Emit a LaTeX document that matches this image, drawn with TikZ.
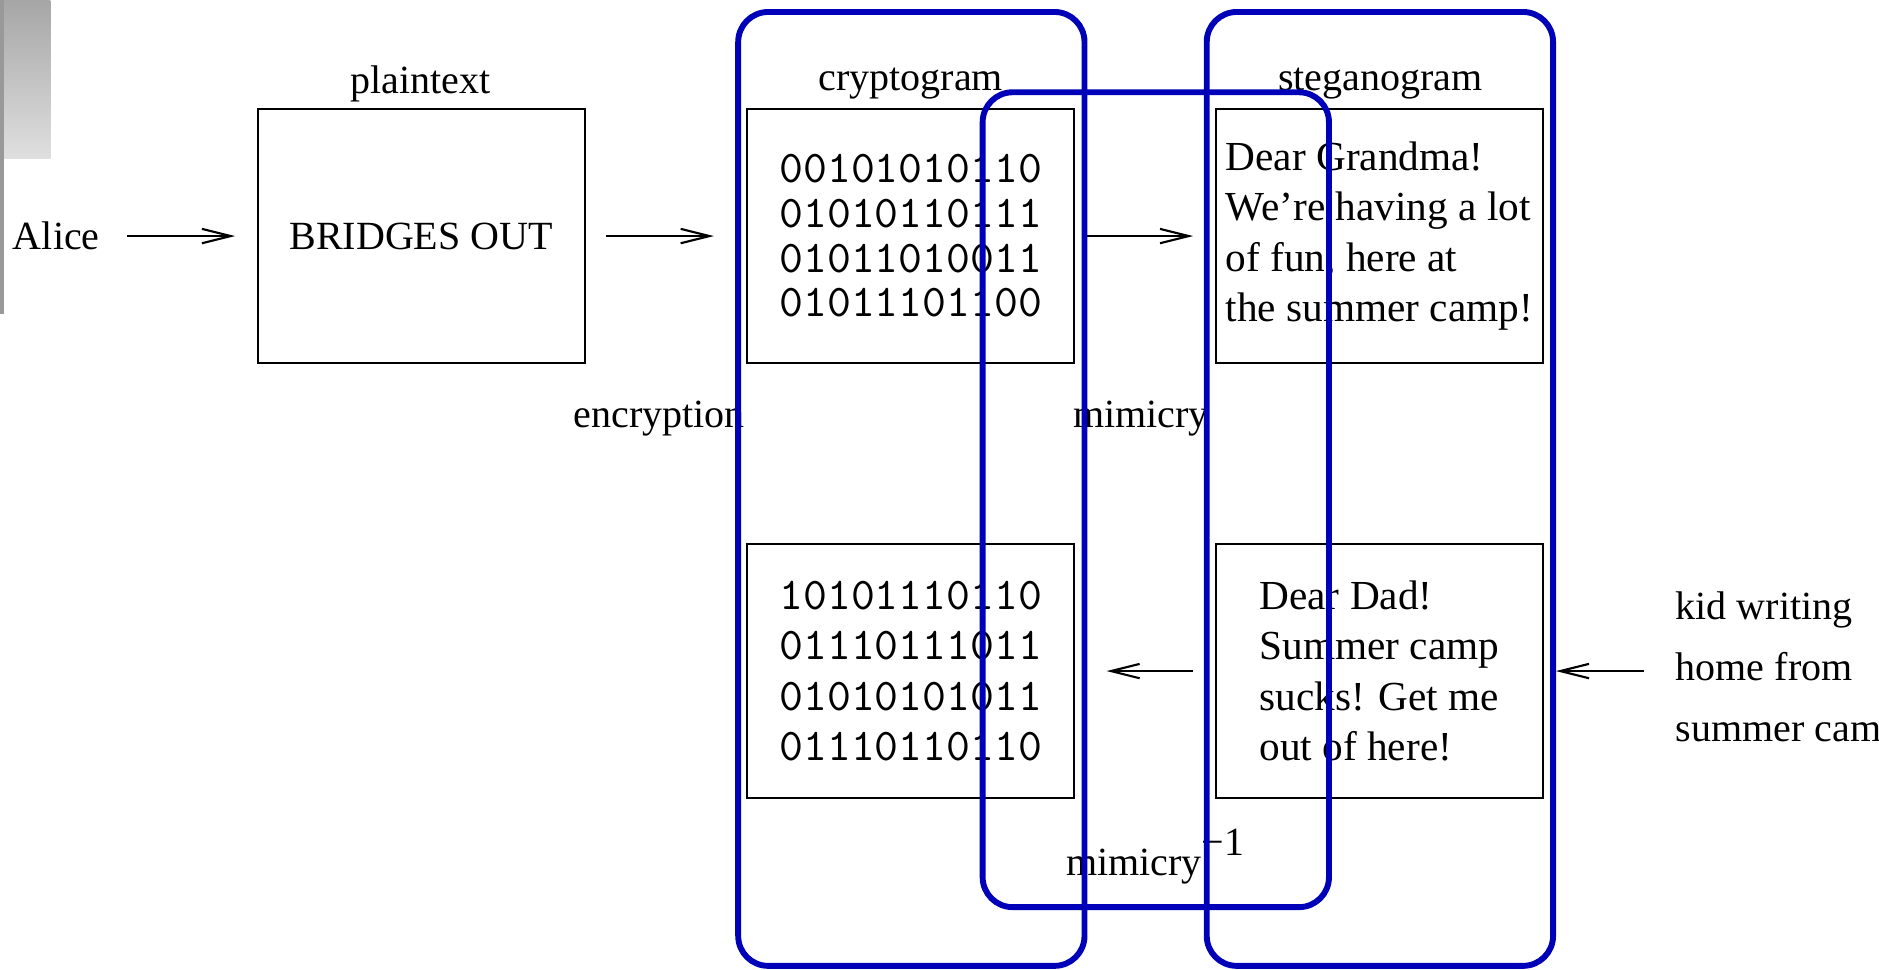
\documentclass[tikz,border=0pt]{standalone}
\usepackage{fontspec}
\setmainfont{Liberation Serif}
\usetikzlibrary{arrows.meta,positioning}
\definecolor{frameblue}{RGB}{0,0,185}

\begin{document}
\begin{tikzpicture}[
    box/.style={draw, line width=0.5pt, minimum width=2.73cm, minimum height=2.12cm,
                inner sep=0pt},
    bits/.style={box, font=\fontsize{10.8}{10.6}\selectfont\ttfamily, align=center},
    letter/.style={box, font=\fontsize{9.8}{12}\selectfont, align=left},
    lab/.style={font=\fontsize{9.5}{11}\selectfont},
    flow/.style={-{Straight Barb[length=2.4mm,width=1.2mm]}, line width=0.5pt},
    group/.style={draw=frameblue, line width=1.4pt, rounded corners=0.25cm}
  ]
  \useasboundingbox (0,0) rectangle (15.68,-8.09);

  % gray strip on the left edge
  \shade[top color=gray!70, bottom color=gray!25] (0,0) rectangle (0.42,-1.32);
  \fill[gray!80] (0,0) rectangle (0.03,-2.62);

  % Upper row: Alice encrypts, then hides the cryptogram
  \node[lab] (alice) at (0.47,-1.97) {Alice};
  \node[box, lab] (plain) at (3.515,-1.97) {BRIDGES OUT};
  \node[bits] (crypt) at (7.60,-1.97) {00101010110\\01010110111\\01011010011\\01011101100};
  \node[letter] (steg) at (11.51,-1.97)
    {Dear Grandma!\\We're having a lot\\of fun, here at\\the summer camp!};

  \node[lab] (plainlab) at (3.51,-0.70) {plaintext};
  \node[lab] (cryptlab) at (7.60,-0.70) {cryptogram};
  \node[lab] (steglab) at (11.52,-0.70) {steganogram};

  % Lower row: the kid's letter read back
  \node[bits, font=\fontsize{10.8}{12}\selectfont\ttfamily] (crypt2) at (7.60,-5.60)
    {10101110110\\01110111011\\01010101011\\01110110110};
  \node[letter] (steg2) at (11.51,-5.60)
    {Dear Dad!\\Summer camp\\sucks! Get me\\out of here!};
  \node[lab, font=\fontsize{9.5}{14.5}\selectfont, align=left, anchor=west] (kid)
    at (13.86,-5.60) {kid writing\\home from\\summer camp};

  % Arrows
  \draw[flow, shorten <=0.1cm, shorten >=0.18cm] (alice) -- (plain);
  \draw[flow, shorten <=0.17cm, shorten >=0.27cm] (plain) -- (crypt);
  \draw[flow, shorten <=0.09cm, shorten >=0.18cm] (crypt) -- (steg);
  \draw[flow, shorten <=0.18cm, shorten >=0.26cm] (steg2) -- (crypt2);
  \draw[flow, shorten <=0.14cm, shorten >=0.10cm] (kid) -- (steg2);

  % Operation labels
  \node[lab] (enclab) at (5.50,-3.49) {encryption};
  \node[lab] (mimlab) at (9.52,-3.49) {mimicry};
  \node[lab] (invlab) at (9.64,-7.15) {mimicry\raisebox{1.1ex}{−1}};

  % Blue frames
  \draw[group] (6.16,-0.10) rectangle (9.05,-8.06);
  \draw[group] (10.07,-0.10) rectangle (12.96,-8.06);
  \draw[group] (8.20,-0.77) rectangle (11.09,-7.57);

\end{tikzpicture}
\end{document}
